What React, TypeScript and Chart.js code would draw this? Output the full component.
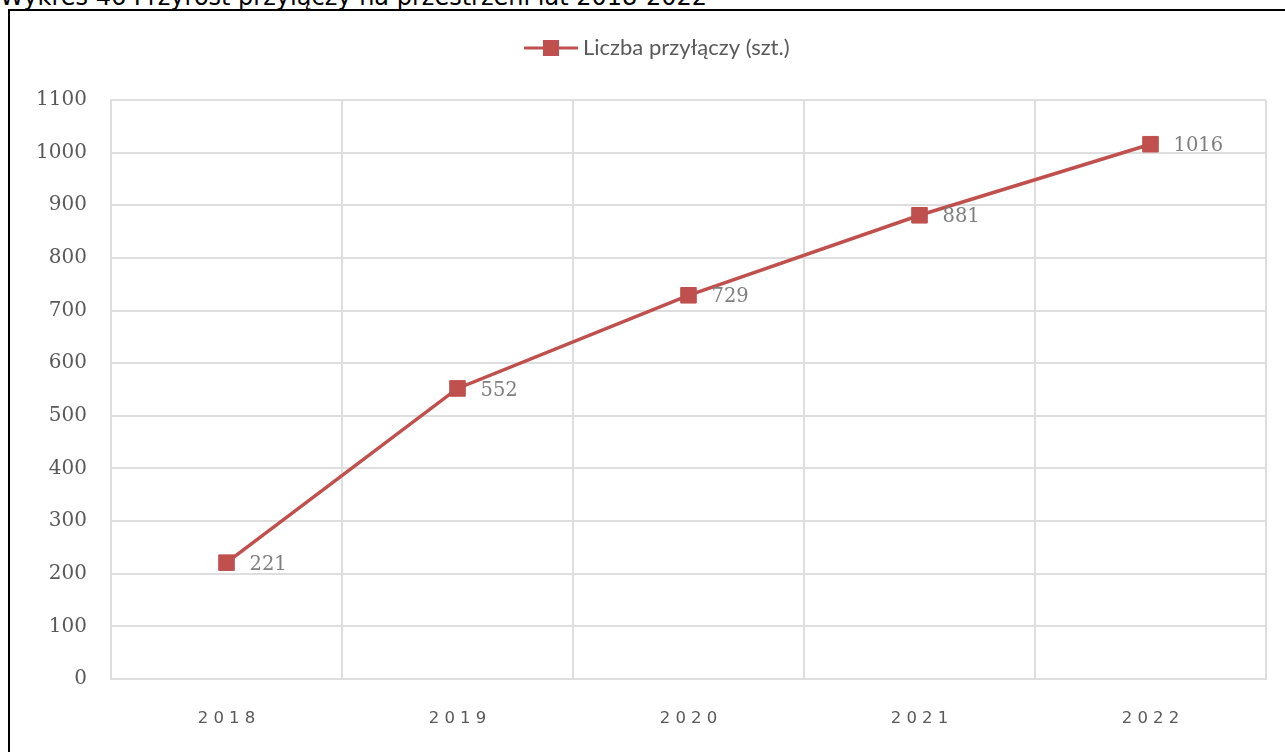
import React, { useEffect, useRef } from "react";
import { Chart, registerables } from "chart.js";

Chart.register(...registerables);

const titleText = "Wykres 46 Przyrost przyłączy na przestrzeni lat 2018-2022";
const seriesLabel = "Liczba przyłączy (szt.)";
const years = ["2018", "2019", "2020", "2021", "2022"];
const connections = [221, 552, 729, 881, 1016];
const yMin = 0;
const yMax = 1100;
const yStep = 100;

const RED = "#c0504d";
const GRID = "#dedede";
const TICK = "#595959";

const CANVAS_W = 1275;
const CANVAS_H = 741;

const dataLabelPlugin = {
  id: "dataLabels",
  afterDatasetsDraw(chart: any) {
    const ctx = chart.ctx;
    const meta = chart.getDatasetMeta(0);
    const values = chart.data.datasets[0].data as number[];
    ctx.save();
    ctx.font = "19.5px 'DejaVu Serif'";
    ctx.fillStyle = "#7f7f7f";
    ctx.textAlign = "left";
    ctx.textBaseline = "middle";
    meta.data.forEach((pt: any, i: number) => {
      ctx.fillText(String(values[i]), pt.x + 23, pt.y + 2);
    });
    ctx.restore();
  },
};

const legendPlugin = {
  id: "customLegend",
  afterDraw(chart: any) {
    const ctx = chart.ctx;
    const cy = 37;
    const lineStart = 514;
    const lineEnd = 568;
    ctx.save();
    ctx.strokeStyle = RED;
    ctx.lineWidth = 3;
    ctx.beginPath();
    ctx.moveTo(lineStart, cy);
    ctx.lineTo(lineEnd, cy);
    ctx.stroke();
    ctx.fillStyle = RED;
    const mid = (lineStart + lineEnd) / 2;
    ctx.fillRect(mid - 8, cy - 8, 16, 16);
    ctx.font = "22px Lato";
    ctx.fillStyle = TICK;
    ctx.textAlign = "left";
    ctx.textBaseline = "middle";
    ctx.fillText(seriesLabel, lineEnd + 5, cy);
    ctx.restore();
  },
};

export default function App() {
  const canvasRef = useRef<HTMLCanvasElement | null>(null);

  useEffect(() => {
    if (!canvasRef.current) return;
    const chart = new Chart(canvasRef.current, {
      type: "line",
      data: {
        labels: years.map((y) => y.split("").join(" ")),
        datasets: [
          {
            label: seriesLabel,
            data: connections,
            borderColor: RED,
            backgroundColor: RED,
            borderWidth: 3.5,
            pointStyle: "rect",
            pointRadius: 11,
            pointBorderWidth: 1,
            pointBorderColor: RED,
            pointBackgroundColor: RED,
            tension: 0,
            fill: false,
          },
        ],
      },
      options: {
        responsive: false,
        animation: false,
        devicePixelRatio: 1,
        layout: { padding: { top: 89, right: 19, left: 0, bottom: 0 } },
        plugins: {
          legend: { display: false },
          title: { display: false },
          tooltip: { enabled: false },
        },
        scales: {
          x: {
            type: "category",
            offset: true,
            grid: {
              offset: true,
              color: GRID,
              lineWidth: 2,
              drawTicks: false,
            },
            border: { display: true, color: GRID, width: 2 },
            ticks: {
              color: TICK,
              font: { family: "'DejaVu Sans'", size: 16.5 },
              padding: 30,
              maxRotation: 0,
            },
            afterFit(scale: any) {
              scale.height = 73;
            },
          },
          y: {
            min: yMin,
            max: yMax,
            grid: { color: GRID, lineWidth: 2, drawTicks: false },
            border: { display: true, color: GRID, width: 2 },
            ticks: {
              stepSize: yStep,
              color: TICK,
              font: { family: "'DejaVu Serif'", size: 20 },
              padding: 24,
              callback: (v: any) => String(v),
            },
            afterFit(scale: any) {
              scale.width = 101;
            },
          },
        },
      },
      plugins: [dataLabelPlugin, legendPlugin],
    });
    return () => chart.destroy();
  }, []);

  return (
    <div
      style={{
        position: "fixed",
        left: 0,
        top: 0,
        width: 1285,
        height: 752,
        background: "#ffffff",
        overflow: "hidden",
      }}
    >
      <div
        style={{
          position: "absolute",
          left: 0,
          top: -15,
          fontFamily: "'DejaVu Sans'",
          fontSize: 24,
          lineHeight: "24px",
          color: "#000",
          whiteSpace: "nowrap",
        }}
      >
        {titleText}
      </div>
      <div
        style={{
          position: "absolute",
          left: 8,
          top: 9,
          width: 1285,
          height: 760,
          borderLeft: "2px solid #000",
          borderTop: "2px solid #000",
        }}
      />
      <canvas
        ref={canvasRef}
        width={CANVAS_W}
        height={CANVAS_H}
        style={{ position: "absolute", left: 10, top: 11, width: CANVAS_W, height: CANVAS_H }}
      />
    </div>
  );
}
